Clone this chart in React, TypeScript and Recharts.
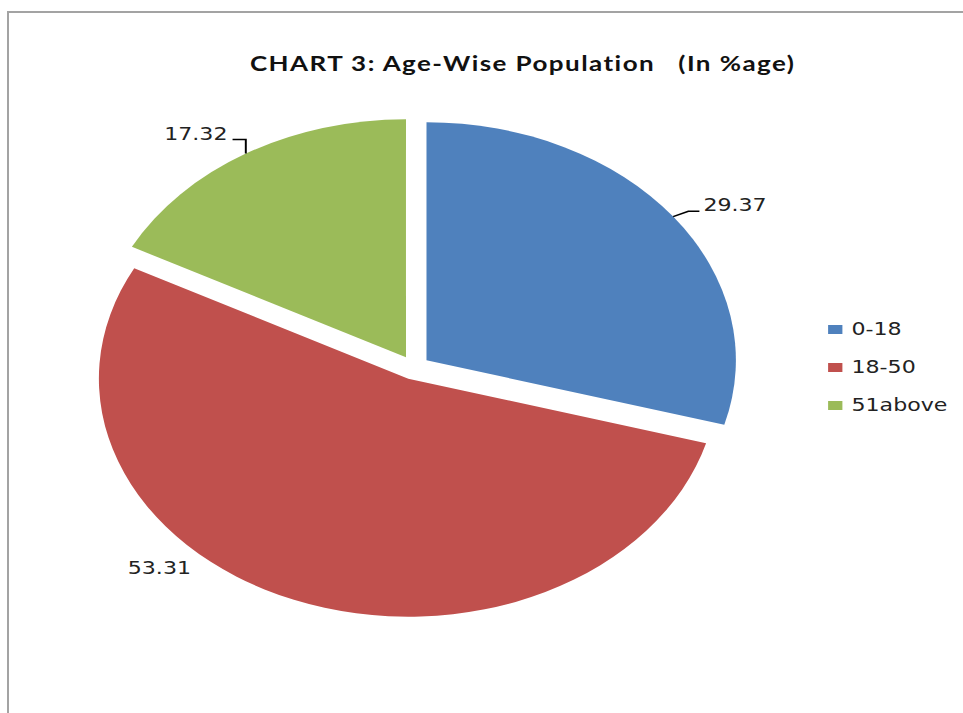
import React from "react";
import { PieChart, Pie, Cell, Sector, Legend } from "recharts";

const categories = ["0-18", "18-50", "51above"];
const shares = [29.37, 53.31, 17.32];
const COLORS = ["#4F81BD", "#C0504D", "#9BBB59"];

// the reference is a screenshot squeezed wide, so draw narrow and stretch it
const SX = 1.3;
const W = 963 / SX;
const H = 713;
const EXPLODE = 12;

// leader line + label placement, relative to the arc midpoint of each slice
const LABEL_LAYOUT = [
  { line: [[0, 0], [11.7, -5.3], [20.2, -5.3]], dx: 23.3, dy: -11.3, anchor: "start" },
  { line: null, dx: -103.5, dy: -31.5, anchor: "middle" },
  { line: [[0, 0], [0, -14.2], [-10.2, -14.2]], dx: -14.1, dy: -19.5, anchor: "end" },
];

const data = categories.map((name, i) => ({ name, value: shares[i] }));

function offset(midAngle: number, r: number) {
  const rad = (-midAngle * Math.PI) / 180;
  return [r * Math.cos(rad), r * Math.sin(rad)];
}

const renderSlice = (props: Record<string, unknown>) => {
  const { cx, cy, midAngle, outerRadius, startAngle, endAngle, fill } = props as {
    cx: number; cy: number; midAngle: number; outerRadius: number;
    startAngle: number; endAngle: number; fill: string;
  };
  const [dx, dy] = offset(midAngle, EXPLODE);
  return (
    <Sector cx={cx + dx} cy={cy + dy} innerRadius={0} outerRadius={outerRadius}
      startAngle={startAngle} endAngle={endAngle} fill={fill} stroke="none" />
  );
};

const renderLabel = (props: Record<string, unknown>) => {
  const { cx, cy, midAngle, outerRadius, index, value } = props as {
    cx: number; cy: number; midAngle: number; outerRadius: number; index: number; value: number;
  };
  const [ox, oy] = offset(midAngle, EXPLODE + outerRadius);
  const ax = cx + ox, ay = cy + oy;
  const lay = LABEL_LAYOUT[index];
  return (
    <g key={`lbl-${index}`}>
      {lay.line && (
        <polyline points={lay.line.map(p => `${ax + p[0]},${ay + p[1]}`).join(" ")}
          fill="none" stroke="#000" strokeWidth={1.5} />
      )}
      <text x={ax + lay.dx} y={ay + lay.dy} textAnchor={lay.anchor as "start"} dominantBaseline="central"
        fontFamily="DejaVu Sans" fontSize={17} fill="#222">
        {value.toFixed(2)}
      </text>
    </g>
  );
};

const renderLegend = (props: Record<string, unknown>) => {
  const payload = (props.payload ?? []) as { value: string; color: string }[];
  return (
    <div>
      {payload.map((p, i) => (
        <div key={i} style={{ display: "flex", alignItems: "center", height: 38 }}>
          <span style={{ width: 11, height: 9, background: p.color, marginRight: 7 }} />
          <span style={{ fontFamily: "DejaVu Sans", fontSize: 17, color: "#222" }}>{p.value}</span>
        </div>
      ))}
    </div>
  );
};

export default function App() {
  return (
    <div style={{ position: "absolute", left: 0, top: 0, width: 963, height: H, overflow: "hidden", background: "#fff" }}>
      <div style={{ position: "absolute", left: 7, top: 11, width: 1000, height: 800, border: "2px solid #a3a3a3" }} />
      <div style={{ position: "absolute", left: 0, top: 0, width: W, height: H, transform: `scaleX(${SX})`, transformOrigin: "0 0" }}>
        <div style={{ position: "absolute", left: 102, top: 48, width: 600, height: 30, lineHeight: "30px", textAlign: "center",
          fontFamily: "Lato", fontWeight: 700, fontSize: 20, letterSpacing: 1.1, color: "#111", whiteSpace: "pre" }}>
          {"CHART 3: Age-Wise Population   (In %age)"}
        </div>
        <PieChart width={W} height={H} style={{ position: "absolute", left: 0, top: 0 }}>
          <Pie data={data} dataKey="value" nameKey="name" cx={313.5} cy={362.5} outerRadius={238}
            startAngle={90} endAngle={-270} stroke="none" isAnimationActive={false}
            shape={renderSlice as any} label={renderLabel as any} labelLine={false}>
            {data.map((d, i) => <Cell key={d.name} fill={COLORS[i]} />)}
          </Pie>
          <Legend layout="vertical" content={renderLegend as any}
            wrapperStyle={{ position: "absolute", left: 637, top: 310, width: 100 }} />
        </PieChart>
      </div>
    </div>
  );
}
